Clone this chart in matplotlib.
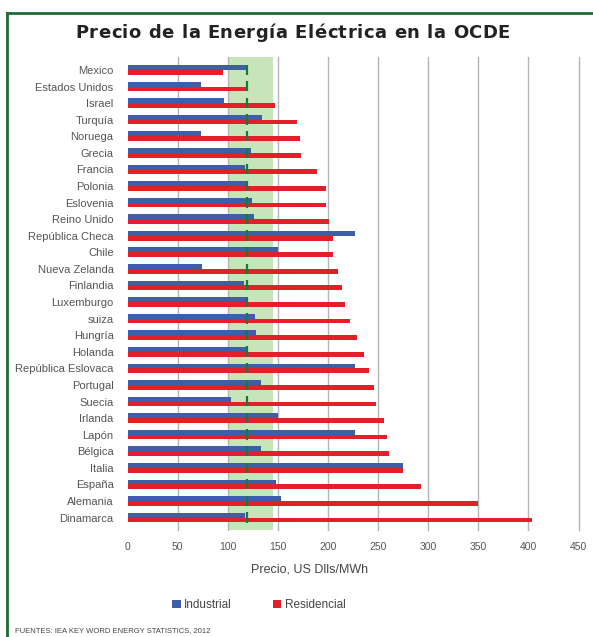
import matplotlib
matplotlib.use("Agg")
import matplotlib.pyplot as plt
import numpy as np
from matplotlib.lines import Line2D
from matplotlib.font_manager import FontProperties, findfont, get_font

plt.rcParams['font.family'] = ['Liberation Sans', 'DejaVu Sans']

paises = [
    "Mexico", "Estados Unidos", "Israel", "Turquía", "Noruega", "Grecia",
    "Francia", "Polonia", "Eslovenia", "Reino Unido", "República Checa",
    "Chile", "Nueva Zelanda", "Finlandia", "Luxemburgo", "suiza", "Hungría",
    "Holanda", "República Eslovaca", "Portugal", "Suecia", "Irlanda", "Lapón",
    "Bélgica", "Italia", "España", "Alemania", "Dinamarca",
]
industrial = [
    119, 73, 96, 134, 73, 123, 117, 120, 124, 126, 227,
    150, 74, 116, 118, 127, 128, 120, 227, 133, 103, 150, 227,
    133, 275, 148, 153, 117,
]
residencial = [
    95, 118, 147, 169, 172, 173, 189, 198, 198, 201, 205,
    205, 210, 214, 217, 222, 229, 236, 241, 246, 248, 256, 259,
    261, 275, 293, 350, 404,
]
promedio_ocde = 119
banda_ocde = (100, 145)
ticks_x = [0, 50, 100, 150, 200, 250, 300, 350, 400, 450]

titulo = "Precio de la Energía Eléctrica en la OCDE"

AZUL = "#3f5ea8"
ROJO = "#e3202a"
VERDE_BANDA = "#c6e5b9"
VERDE_MARCA = "#137a3a"
VERDE_MARCO = "#1d6b38"
GRIS_TEXTO = "#555555"

W, H = 593, 637
DPI = 100
fig = plt.figure(figsize=(W / DPI, H / DPI), dpi=DPI)

ax_left, ax_right = 127.5 / W, 578.5 / W
ax_top, ax_bot = 1 - 57 / H, 1 - 530 / H
ax = fig.add_axes([ax_left, ax_bot, ax_right - ax_left, ax_top - ax_bot])

y = np.arange(len(paises))
alto = 0.29
ax.axvspan(*banda_ocde, color=VERDE_BANDA, zorder=0, lw=0)
for v in ticks_x[1:]:
    ax.axvline(v, color="#b5b5b5", lw=1.0, zorder=1, clip_on=False)

b_ind = ax.barh(y - 0.145, industrial, height=alto, color=AZUL, zorder=2, label="Industrial")
b_res = ax.barh(y + 0.145, residencial, height=alto, color=ROJO, zorder=2, label="Residencial")
ax.vlines([promedio_ocde] * len(paises), y - 0.32, y + 0.3, color=VERDE_MARCA, lw=1.6, zorder=3)

ax.set_xlim(0, 450)
ax.set_ylim(len(paises) - 0.25, -0.78)
ax.set_xticks(ticks_x)
ax.set_yticks(y)
ax.set_yticklabels(paises)
ax.tick_params(axis="y", length=0, pad=10, labelsize=8, labelcolor=GRIS_TEXTO)
ax.tick_params(axis="x", length=0, pad=9, labelsize=7.5, labelcolor=GRIS_TEXTO)
for s in ax.spines.values():
    s.set_visible(False)

fig.text(310 / W, 1 - 570 / H, "Precio, US Dlls/MWh", ha="center", va="center",
         fontsize=9, color="#444444")

# Título en negrita ancha, con el espaciado justo para ocupar su ancho
tam_titulo = 13
fp = FontProperties(family="DejaVu Sans", weight="bold")
fuente = get_font(findfont(fp))
fuente.set_size(tam_titulo, DPI)
avances = [fuente.load_char(ord(ch)).linearHoriAdvance / 65536 for ch in titulo]
x_ini, x_fin = 75.0, 510.0
espacio = (x_fin - x_ini - sum(avances)) / (len(titulo) - 1)
x = x_ini
for ch, a in zip(titulo, avances):
    if ch != " ":
        fig.text(x / W, 1 - 33 / H, ch, ha="left", va="center", fontproperties=fp,
                 fontsize=tam_titulo, color="#222222")
    x += a + espacio

fig.legend(handles=[b_ind, b_res], loc="center", bbox_to_anchor=(259 / W, 1 - 605 / H),
           ncol=2, frameon=False, fontsize=8.5, handlelength=0.7, handleheight=0.7,
           handletextpad=0.3, columnspacing=3.5, labelcolor="#444444")

fig.text(15 / W, 1 - 631 / H, "FUENTES: IEA KEY WORD ENERGY STATISTICS, 2012",
         ha="left", va="center", fontsize=5.5, color="#444444")

# Marco verde superior e izquierdo
fig.add_artist(Line2D([7 / W, 1], [1 - 13 / H, 1 - 13 / H], color=VERDE_MARCO, lw=2,
                      transform=fig.transFigure))
fig.add_artist(Line2D([7 / W, 7 / W], [1 - 13 / H, 0], color=VERDE_MARCO, lw=2,
                      transform=fig.transFigure))

fig.savefig("out.png", dpi=DPI)
